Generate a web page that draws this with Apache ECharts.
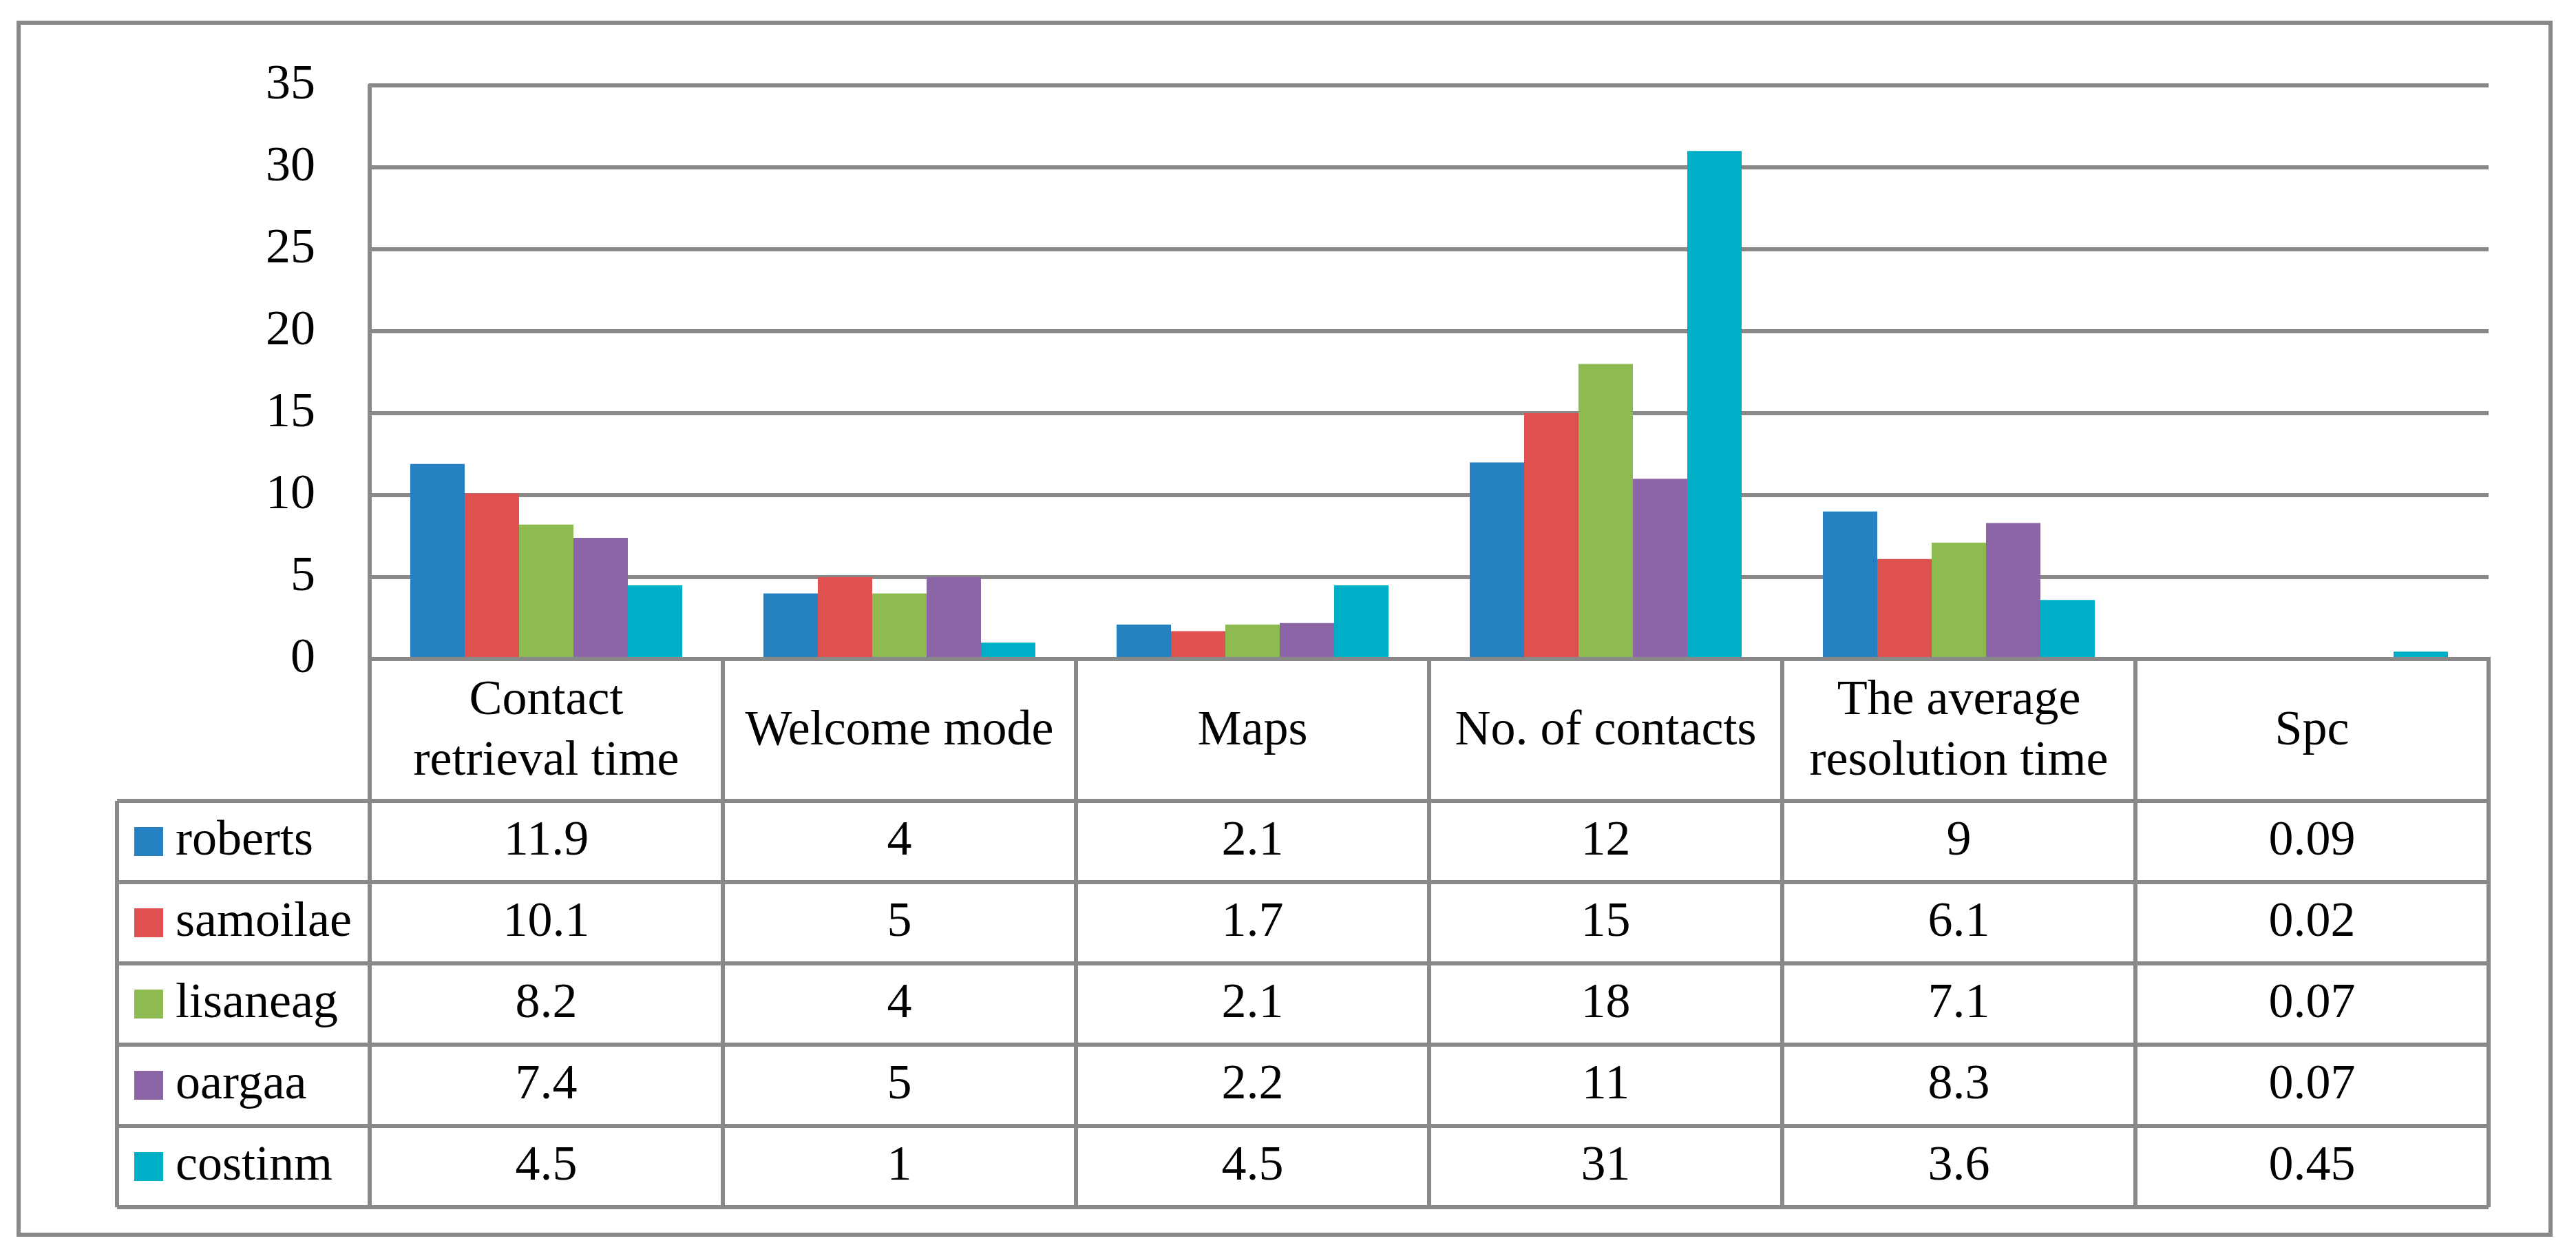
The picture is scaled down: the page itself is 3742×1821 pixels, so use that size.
<!DOCTYPE html>
<html>
<head>
<meta charset="utf-8">
<script src="https://cdn.jsdelivr.net/npm/echarts@6/dist/echarts.min.js"></script>
<style>
  html, body { margin: 0; padding: 0; background: #fff; }
  #chart { width: 3742px; height: 1821px; }
</style>
</head>
<body>
<div id="chart"></div>
<script>
// ---- data ----
const categories = ['Contact\nretrieval time', 'Welcome mode', 'Maps', 'No. of contacts', 'The average\nresolution time', 'Spc'];
const seriesNames = ['roberts', 'samoilae', 'lisaneag', 'oargaa', 'costinm'];
const roberts  = [11.9, 4, 2.1, 12, 9, 0.09];
const samoilae = [10.1, 5, 1.7, 15, 6.1, 0.02];
const lisaneag = [8.2, 4, 2.1, 18, 7.1, 0.07];
const oargaa   = [7.4, 5, 2.2, 11, 8.3, 0.07];
const costinm  = [4.5, 1, 4.5, 31, 3.6, 0.45];
const yMin = 0, yMax = 35, yInterval = 5;

// ---- style ----
const colors = ['#2581C1', '#DE5150', '#8DBB51', '#8B65A5', '#00AEC8'];
const lineColor = '#898989';
const lineW = 6;
const FONT = '"Liberation Serif", "Times New Roman", serif';
const FS = 72;

const seriesData = [roberts, samoilae, lisaneag, oargaa, costinm];

const chart = echarts.init(document.getElementById('chart'), null, { renderer: 'canvas' });

const gridLeft = 537, gridRight = 127, gridTop = 124, gridBottom = 864;

chart.setOption({
  backgroundColor: '#ffffff',
  animation: false,
  grid: { left: gridLeft, right: gridRight, top: gridTop, bottom: gridBottom, containLabel: false },
  xAxis: {
    type: 'category',
    data: categories,
    axisLine: { show: true, lineStyle: { color: lineColor, width: lineW } },
    axisTick: { show: false },
    axisLabel: { show: false },
    splitLine: { show: false }
  },
  yAxis: {
    type: 'value',
    min: yMin, max: yMax, interval: yInterval,
    axisLine: { show: true, lineStyle: { color: lineColor, width: lineW } },
    axisTick: { show: false },
    axisLabel: { show: true, color: '#000', fontFamily: FONT, fontSize: FS, margin: 79 },
    splitLine: { show: true, lineStyle: { color: lineColor, width: lineW } }
  },
  series: seriesNames.map((name, i) => ({
    name: name,
    type: 'bar',
    data: seriesData[i],
    barGap: '0%',
    barCategoryGap: '23%',
    itemStyle: { color: colors[i] }
  }))
});

// ---- data table drawn under the plot ----
function buildTable() {
  const zeroY = chart.convertToPixel({ yAxisIndex: 0 }, 0);
  const c0 = chart.convertToPixel({ xAxisIndex: 0 }, 0);
  const c1 = chart.convertToPixel({ xAxisIndex: 0 }, 1);
  const colW = c1 - c0;
  const plotLeft = c0 - colW / 2;
  const nCols = categories.length;
  const plotRight = plotLeft + colW * nCols;
  const headerH = 206;
  const rowH = 118;
  const tableLeft = 170;
  const headerBottom = zeroY + headerH;
  const tableBottom = headerBottom + rowH * seriesNames.length;

  const g = [];
  const lineStyle = { stroke: lineColor, lineWidth: lineW };

  // outer border
  g.push({ type: 'rect', shape: { x: 27, y: 33, width: 3678, height: 1760 },
           style: { fill: null, stroke: lineColor, lineWidth: lineW }, z: 1 });

  // category axis line drawn over the bar bases
  g.push({ type: 'line', shape: { x1: plotLeft - lineW / 2, y1: zeroY, x2: plotRight + lineW / 2, y2: zeroY }, style: lineStyle, z: 10 });

  // horizontal lines of the data rows
  for (let r = 0; r <= seriesNames.length; r++) {
    const y = headerBottom + r * rowH;
    g.push({ type: 'line', shape: { x1: tableLeft, y1: y, x2: plotRight, y2: y }, style: lineStyle, z: 5 });
  }
  // vertical column lines
  for (let c = 0; c <= nCols; c++) {
    const x = plotLeft + c * colW;
    g.push({ type: 'line', shape: { x1: x, y1: zeroY, x2: x, y2: tableBottom }, style: lineStyle, z: 5 });
  }
  g.push({ type: 'line', shape: { x1: tableLeft, y1: headerBottom, x2: tableLeft, y2: tableBottom }, style: lineStyle, z: 5 });

  // header text
  categories.forEach((cat, c) => {
    const cx = chart.convertToPixel({ xAxisIndex: 0 }, c);
    g.push({ type: 'text', x: cx, y: zeroY + headerH / 2 + 2, z: 6,
      style: { text: cat, fill: '#000', font: FS + 'px ' + FONT, align: 'center', verticalAlign: 'middle', lineHeight: 88 } });
  });

  // data rows
  seriesNames.forEach((name, r) => {
    const cy = headerBottom + r * rowH + rowH / 2;
    g.push({ type: 'rect', shape: { x: 195, y: cy - 21, width: 42, height: 42 }, style: { fill: colors[r] }, z: 6 });
    g.push({ type: 'text', x: 255, y: cy, z: 6,
      style: { text: name, fill: '#000', font: FS + 'px ' + FONT, align: 'left', verticalAlign: 'middle' } });
    seriesData[r].forEach((v, c) => {
      const cx = chart.convertToPixel({ xAxisIndex: 0 }, c);
      g.push({ type: 'text', x: cx, y: cy, z: 6,
        style: { text: String(v), fill: '#000', font: FS + 'px ' + FONT, align: 'center', verticalAlign: 'middle' } });
    });
  });

  chart.setOption({ graphic: { elements: g } });
}
buildTable();
</script>
</body>
</html>
